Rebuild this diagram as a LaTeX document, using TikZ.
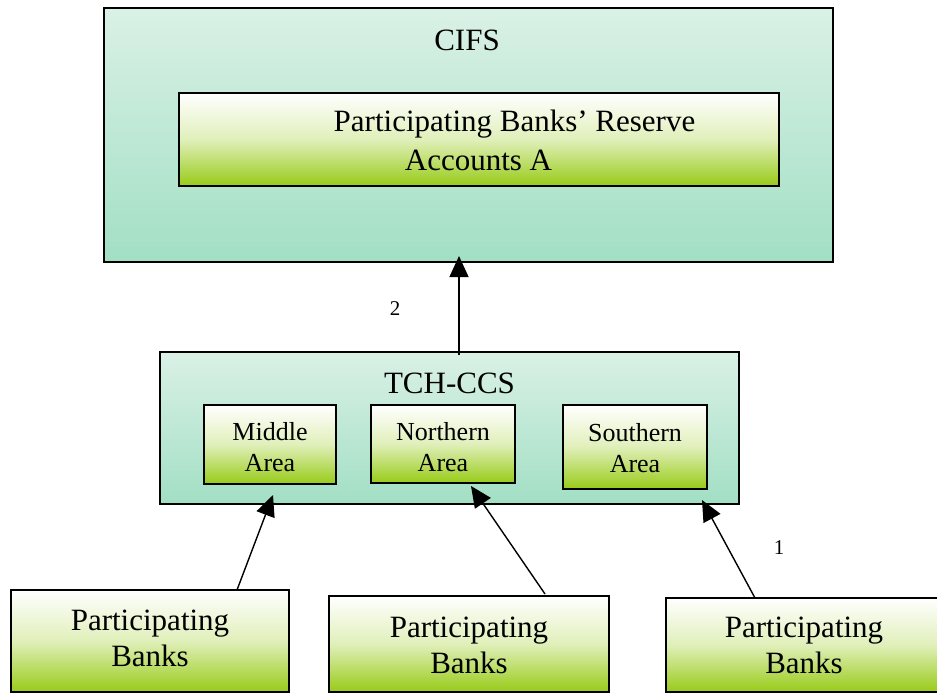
\documentclass[tikz,border=0pt]{standalone}
\usepackage{fontspec}
\setmainfont{Liberation Serif}
\usetikzlibrary{arrows.meta}
\definecolor{mintTop}{HTML}{DAF1E6}
\definecolor{mintBot}{HTML}{A2DFC4}
\definecolor{limeBot}{HTML}{98CB18}
\tikzset{
  outerbox/.style={draw=black, line width=1.6pt, rectangle, top color=mintTop, bottom color=mintBot, inner sep=0pt},
  greenbox/.style={draw=black, line width=1.6pt, rectangle, top color=white, bottom color=limeBot, middle color=white!70!limeBot, inner sep=0pt},
  bigtxt/.style={font=\fontsize{31}{36}\selectfont, align=center, inner sep=0pt},
  midtxt/.style={font=\fontsize{26}{31}\selectfont, align=center, inner sep=0pt},
  smalltxt/.style={font=\fontsize{21}{23}\selectfont, inner sep=0pt},
  conn/.style={line width=1.4pt, -{Triangle[width=19pt,length=21pt]}}
}
\begin{document}
\begin{tikzpicture}[x=1pt,y=-1pt]
\useasboundingbox (0,0) rectangle (937,693);
% CIFS
\node[outerbox, minimum width=729pt, minimum height=254pt] (cifs) at (468.5,135) {};
\node[bigtxt] (cifst) at (467,40) {CIFS};
\node[greenbox, minimum width=600pt, minimum height=93pt] (res) at (479,139.5) {};
\node[bigtxt] (rest1) at (514.5,124) {Participating Banks’ Reserve};
\node[bigtxt] (rest2) at (478.5,160) {Accounts A};
% TCH-CCS
\node[outerbox, minimum width=579pt, minimum height=152pt] (tch) at (449.5,428) {};
\node[bigtxt] (tcht) at (449.5,383) {TCH-CCS};
\node[greenbox, minimum width=132pt, minimum height=79pt] (mid) at (270,444.5) {};
\node[midtxt] (midt) at (270,447) {Middle\\Area};
\node[greenbox, minimum width=144pt, minimum height=78pt] (nor) at (443,444) {};
\node[midtxt] (nort) at (443,447) {Northern\\Area};
\node[greenbox, minimum width=144pt, minimum height=84pt] (sou) at (635,447) {};
\node[midtxt] (sout) at (635,448) {Southern\\Area};
% banks
\node[greenbox, minimum width=278pt, minimum height=102pt] (pb1) at (150,641) {};
\node[bigtxt] (pb1t) at (150,638.5) {Participating\\Banks};
\node[greenbox, minimum width=280pt, minimum height=96pt] (pb2) at (469,644) {};
\node[bigtxt] (pb2t) at (469,645) {Participating\\Banks};
\node[greenbox, minimum width=290pt, minimum height=94pt] (pb3) at (811,645) {};
\node[bigtxt] (pb3t) at (804,645) {Participating\\Banks};
% connectors
\coordinate (s1) at (237,590);
\coordinate (e1) at (273,495);
\coordinate (s2) at (545,594);
\coordinate (e2) at (471,486);
\coordinate (s3) at (755,598);
\coordinate (e3) at (702,500);
\coordinate (s0) at (459,355);
\coordinate (e0) at (459,256);
\draw[conn] (s1) -- (e1);
\draw[conn] (s2) -- (e2);
\draw[conn] (s3) -- (e3);
\draw[conn] (s0) -- (e0);
\node[smalltxt] (l2) at (395,309) {2};
\node[smalltxt] (l1) at (779,548) {1};
\end{tikzpicture}
\end{document}
